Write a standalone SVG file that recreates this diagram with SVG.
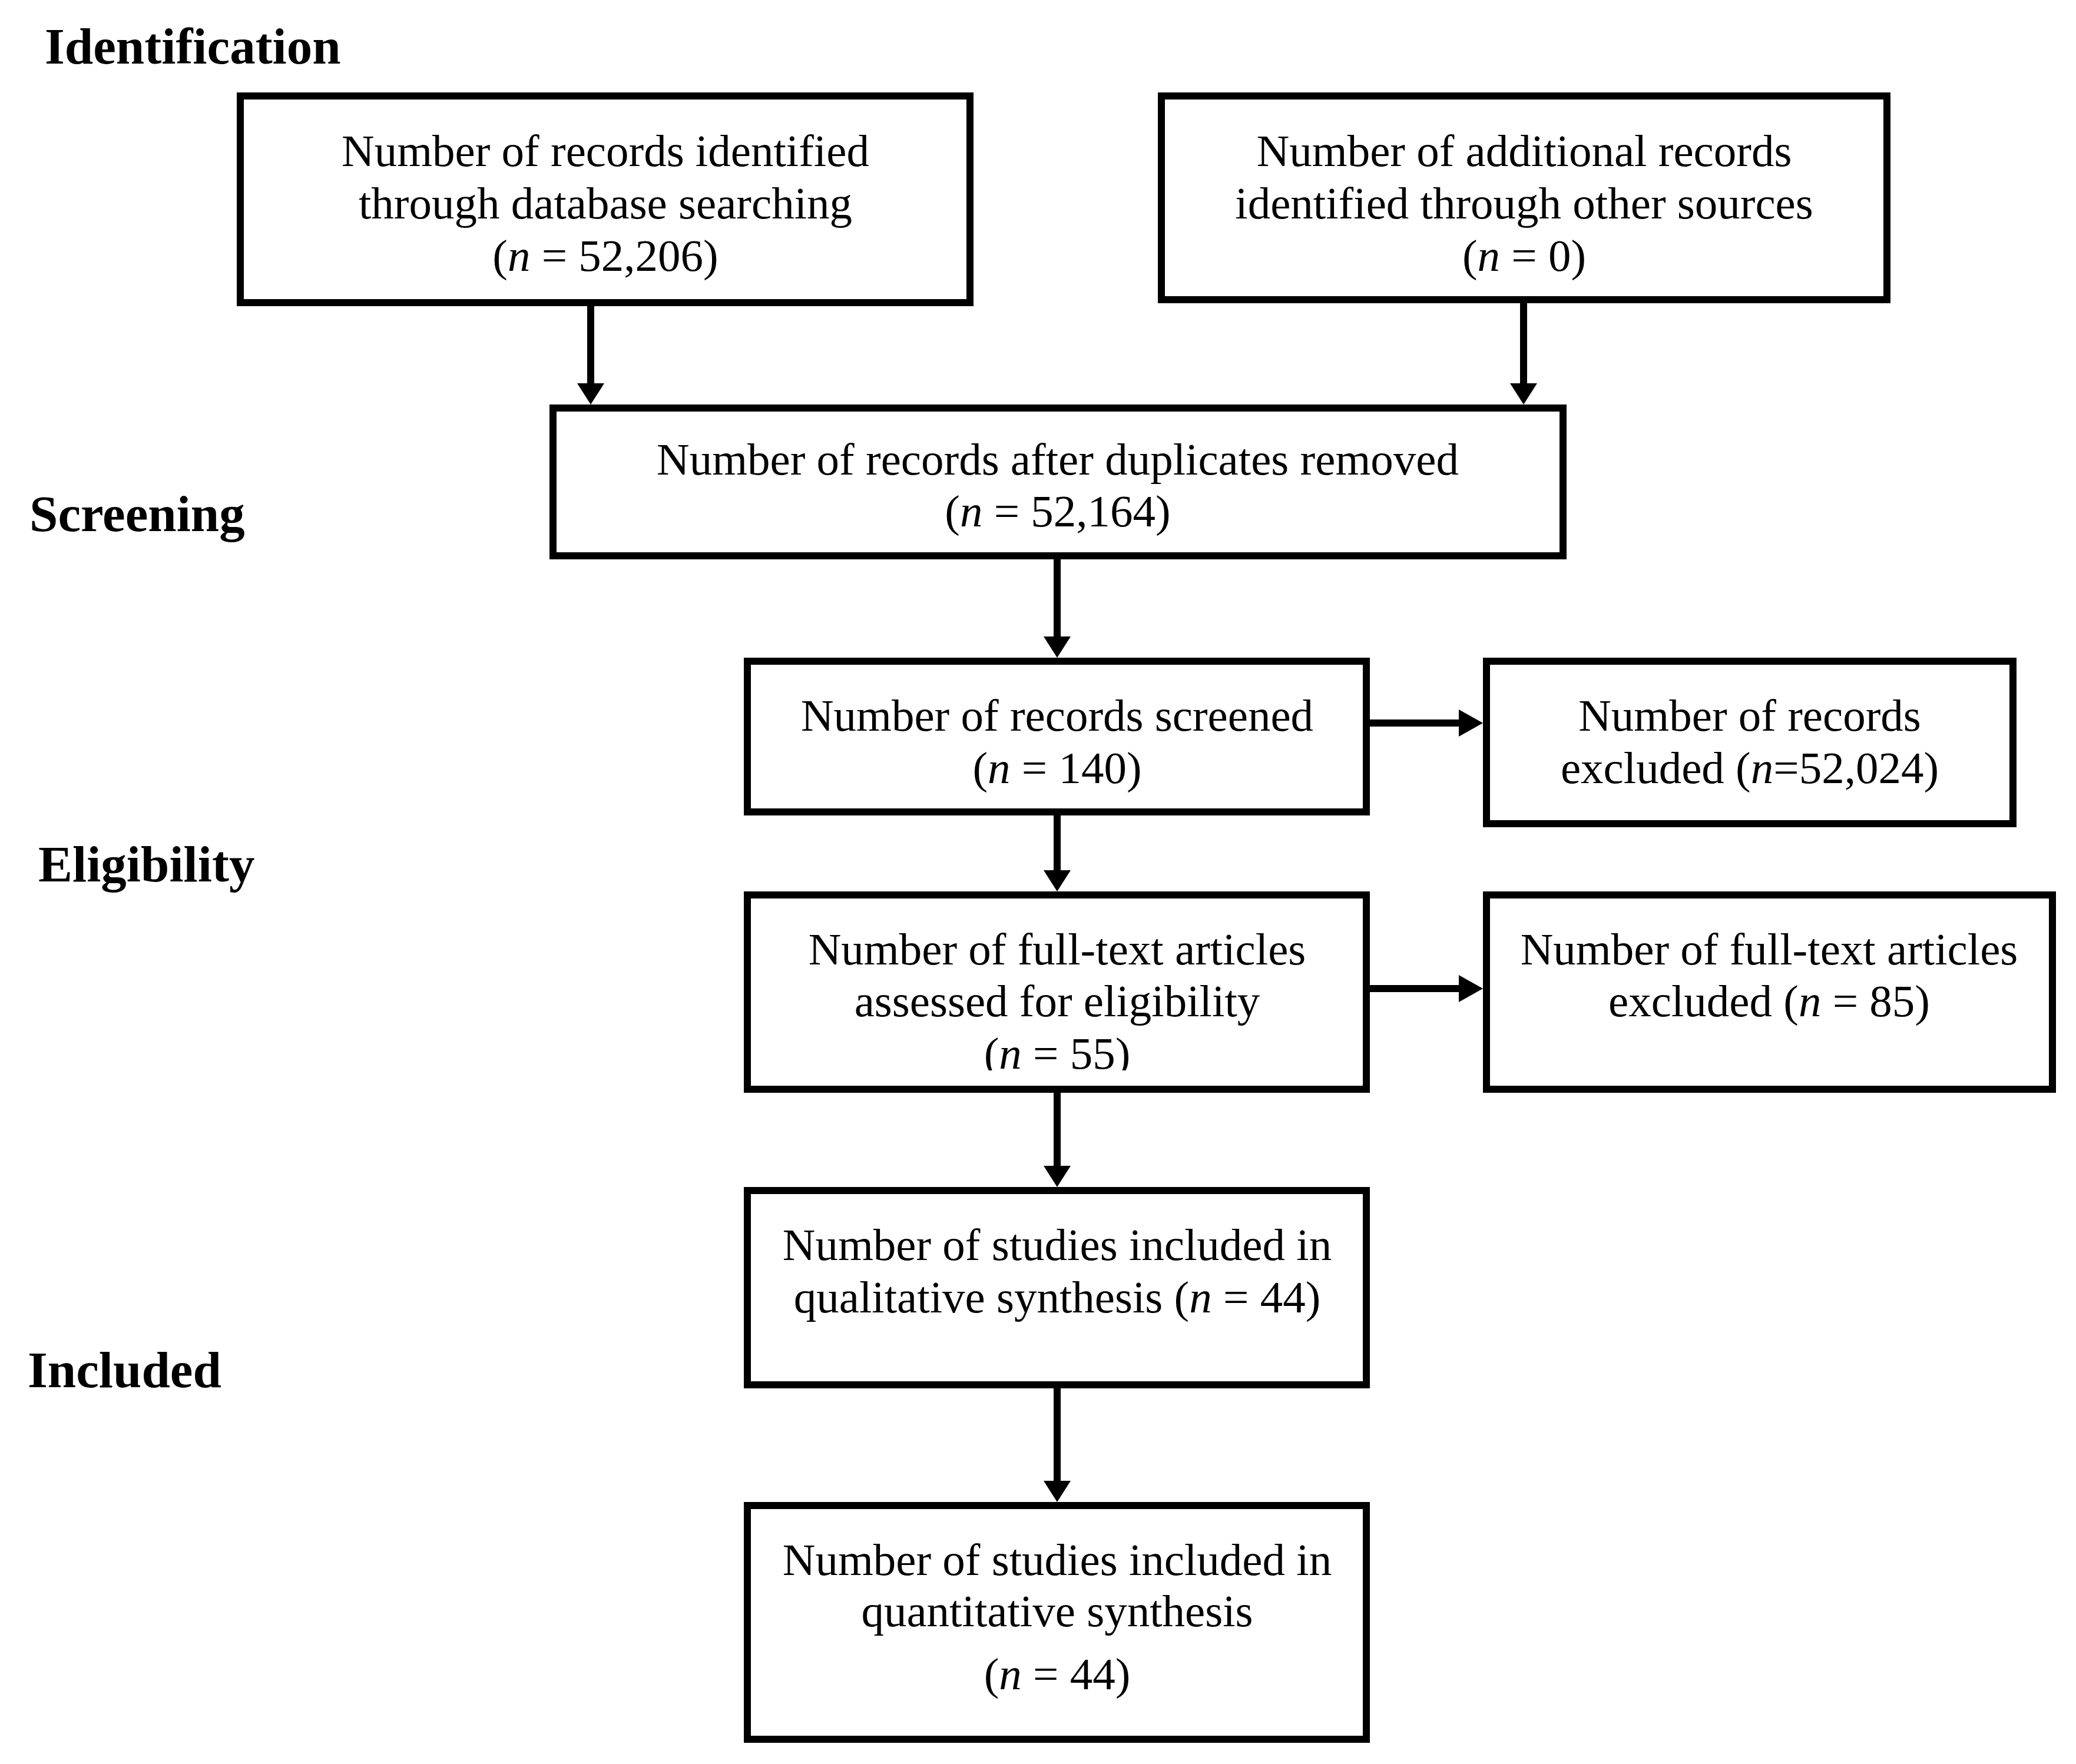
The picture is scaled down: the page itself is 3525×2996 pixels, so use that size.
<svg xmlns="http://www.w3.org/2000/svg" width="3525" height="2996" viewBox="0 0 3525 2996">
<style>
.box{fill:none;stroke:#000;stroke-width:12;}
.t{font-family:"Liberation Serif","Times New Roman",serif;font-size:77px;fill:#000;text-anchor:middle;}
.stage{font-family:"Liberation Serif","Times New Roman",serif;font-size:87px;font-weight:bold;fill:#000;}
.c{stroke:#000;stroke-width:12;fill:none;}
.i{font-style:italic;}
</style>
<defs>
<marker id="av" markerUnits="userSpaceOnUse" markerWidth="40" markerHeight="46" refX="0" refY="23" orient="auto" viewBox="0 0 36 46">
<path d="M0,0 L36,23 L0,46 Z" fill="#000"/>
</marker>
<marker id="ah" markerUnits="userSpaceOnUse" markerWidth="42" markerHeight="46" refX="0" refY="23" orient="auto" viewBox="0 0 41 46">
<path d="M0,0 L41,23 L0,46 Z" fill="#000"/>
</marker>
<clipPath id="clip55"><rect x="1269" y="1750" width="1051" height="68"/></clipPath>
</defs>
<rect width="3525" height="2996" fill="#fff"/>

<g id="stages">
<text class="stage" x="76" y="108">Identification</text>
<text class="stage" x="50" y="902">Screening</text>
<text class="stage" x="65" y="1497">Eligibility</text>
<text class="stage" x="47" y="2356">Included</text>
</g>

<g id="connectors">
<line class="c" x1="1003" y1="514" x2="1003" y2="651" marker-end="url(#av)"/>
<line class="c" x1="2587" y1="509" x2="2587" y2="651" marker-end="url(#av)"/>
<line class="c" x1="1795" y1="944" x2="1795" y2="1081" marker-end="url(#av)"/>
<line class="c" x1="1795" y1="1379" x2="1795" y2="1478" marker-end="url(#av)"/>
<line class="c" x1="2320" y1="1228" x2="2477" y2="1228" marker-end="url(#ah)"/>
<line class="c" x1="2320" y1="1679" x2="2477" y2="1679" marker-end="url(#ah)"/>
<line class="c" x1="1795" y1="1850" x2="1795" y2="1980" marker-end="url(#av)"/>
<line class="c" x1="1795" y1="2358" x2="1795" y2="2515" marker-end="url(#av)"/>
</g>

<g id="node-db">
<rect class="box" x="408" y="163" width="1239" height="351"/>
<text class="t" x="1028" y="282">Number of records identified</text>
<text class="t" x="1028" y="371">through database searching</text>
<text class="t" x="1028" y="460">(<tspan class="i">n</tspan> = 52,206)</text>
</g>

<g id="node-other">
<rect class="box" x="1972" y="163" width="1232" height="346"/>
<text class="t" x="2588" y="282">Number of additional records</text>
<text class="t" x="2588" y="371">identified through other sources</text>
<text class="t" x="2588" y="460">(<tspan class="i">n</tspan> = 0)</text>
</g>

<g id="node-dup">
<rect class="box" x="939" y="693" width="1715" height="251"/>
<text class="t" x="1796" y="806">Number of records after duplicates removed</text>
<text class="t" x="1796" y="894">(<tspan class="i">n</tspan> = 52,164)</text>
</g>

<g id="node-screened">
<rect class="box" x="1269" y="1123" width="1051" height="256"/>
<text class="t" x="1795" y="1241">Number of records screened</text>
<text class="t" x="1795" y="1330">(<tspan class="i">n</tspan> = 140)</text>
</g>

<g id="node-excluded">
<rect class="box" x="2524" y="1123" width="894" height="276"/>
<text class="t" x="2971" y="1241">Number of records</text>
<text class="t" x="2971" y="1330">excluded (<tspan class="i">n</tspan>=52,024)</text>
</g>

<g id="node-fulltext">
<rect class="box" x="1269" y="1520" width="1051" height="330"/>
<text class="t" x="1795" y="1638">Number of full-text articles</text>
<text class="t" x="1795" y="1726">assessed for eligibility</text>
<text class="t" x="1795" y="1815" clip-path="url(#clip55)">(<tspan class="i">n</tspan> = 55)</text>
</g>

<g id="node-ftexcluded">
<rect class="box" x="2524" y="1520" width="961" height="330"/>
<text class="t" x="3004" y="1638">Number of full-text articles</text>
<text class="t" x="3004" y="1726">excluded (<tspan class="i">n</tspan> = 85)</text>
</g>

<g id="node-qual">
<rect class="box" x="1269" y="2022" width="1051" height="330"/>
<text class="t" x="1795" y="2140">Number of studies included in</text>
<text class="t" x="1795" y="2229">qualitative synthesis (<tspan class="i">n</tspan> = 44)</text>
</g>

<g id="node-quant">
<rect class="box" x="1269" y="2557" width="1051" height="397"/>
<text class="t" x="1795" y="2675">Number of studies included in</text>
<text class="t" x="1795" y="2762">quantitative synthesis</text>
<text class="t" x="1795" y="2869">(<tspan class="i">n</tspan> = 44)</text>
</g>
</svg>
